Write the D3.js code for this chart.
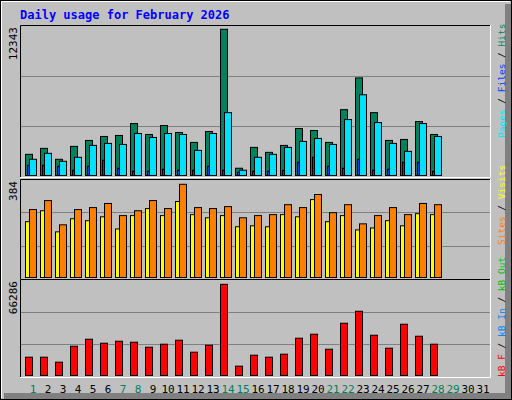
<!DOCTYPE html>
<html><head><meta charset="utf-8">
<script src="https://cdn.jsdelivr.net/npm/d3@7"></script>
<style>body{margin:0;background:#fff}</style>
</head><body>
<div id="chart"></div>
<script>
// daily values
const days = d3.range(1, 32);
const weekend = [1, 7, 8, 14, 15, 21, 22, 28, 29];
const hits = [1787,2290,1369,2458,2961,3296,3380,4385,3463,4217,3631,2793,3715,12343,614,2374,1955,2541,3966,3798,2793,5558,8239,5306,2961,3044,4552,3463];
const files = [1369,1871,1201,1536,2541,2709,2625,3547,3212,3547,3463,2123,3547,5306,447,1536,1787,2374,2877,3128,2625,4720,6815,4469,2709,2039,4385,3296];
const pages = [866,866,782,447,782,1285,614,363,363,531,447,447,782,447,279,363,363,447,1117,1536,782,614,1369,447,531,1117,1117,363];
const visits = [230,275,188,242,234,250,200,255,284,255,313,259,246,255,209,213,209,259,250,321,230,255,196,204,234,213,263,259];
const sites = [280,317,217,280,288,305,255,275,317,284,384,288,284,292,246,255,259,300,288,342,267,300,221,255,288,259,305,300];
const kbytes = [13305,13305,9676,21287,26367,23464,24916,24190,20562,22739,25641,16933,22013,66286,6773,14756,13305,15482,27093,29996,19110,37978,46687,29270,19836,37253,28544,22739];

const W = 512, H = 400;
const font = "'DejaVu Sans Mono', monospace";
const svg = d3.select("#chart").append("svg").attr("width", W).attr("height", H);

// background with bevel
svg.append("rect").attr("width", W).attr("height", H).attr("fill", "#c0c0c0");
svg.append("path").attr("d", `M1,${H-2}V1H${W-2}`).attr("stroke", "#fff").attr("stroke-width", 2).attr("fill", "none");
svg.append("path").attr("d", `M${W-4},4V${H-4}H4`).attr("stroke", "#808080").attr("stroke-width", 6).attr("fill", "none");
svg.append("rect").attr("x", 0.5).attr("y", 0.5).attr("width", W - 1).attr("height", H - 1).attr("fill", "none").attr("stroke", "#000");

svg.append("text").attr("x", 20).attr("y", 19).attr("fill", "#0000ff")
	.style("font", `bold 12px ${font}`).text("Daily usage for February 2026");

const x = d3.scaleLinear().domain([1, 31]).range([25, 475]); // left edge of day group

function panel(y0, y1, top, max, label){
	svg.append("path").attr("d", `M20.5,${y1}V${y0+0.5}H490.5`).attr("stroke", "#000").attr("fill", "none");
	svg.append("path").attr("d", `M490.5,${y0}V${y1+0.5}H20`).attr("stroke", "#fff").attr("fill", "none");
	const step = (y1 - y0) / 3;
	[1, 2].forEach(i => svg.append("line").attr("x1", 21).attr("x2", 490)
		.attr("y1", Math.round(y0 + step * i) + 0.5).attr("y2", Math.round(y0 + step * i) + 0.5)
		.attr("stroke", "#808080"));
	svg.append("text").attr("transform", `translate(17,${y0+2}) rotate(-90)`).attr("text-anchor", "end")
		.style("font", `11px ${font}`).text(label);
	return d3.scaleLinear().domain([0, max]).range([y1 - 1.5, top]);
}

function bars(data, y, dx, w, color){
	svg.append("g").selectAll("rect").data(data).join("rect")
		.attr("x", (d, i) => x(i + 1) + dx + 0.5)
		.attr("y", d => y(d))
		.attr("width", w)
		.attr("height", d => y(0) - y(d))
		.attr("fill", color).attr("stroke", "#000");
}

const yTop = panel(25, 177, 29.3, d3.max(hits), d3.max(hits));
bars(hits, yTop, 0, 7, "#00805c");
bars(files, yTop, 4, 7, "#00e0ff");
bars(pages, yTop, 2, 2, "#0040ff");

const yMid = panel(179, 279, 184.3, d3.max(sites), d3.max(sites));
bars(visits, yMid, 0, 4, "#ffff00");
bars(sites, yMid, 4, 7, "#ff8000");

const yBot = panel(279, 377, 284.3, d3.max(kbytes), d3.max(kbytes));
bars(kbytes, yBot, 0, 7, "#ff0000");

// day labels
svg.append("g").selectAll("text").data(days).join("text")
	.attr("x", d => x(d) + 8).attr("y", 393).attr("text-anchor", "middle")
	.attr("fill", d => weekend.includes(d) ? "#00805c" : "#000")
	.style("font", `11px ${font}`).text(d => d);

// right side legends, read bottom to top
function legend(yBottom, parts){
	const t = svg.append("text").attr("transform", `translate(505,${yBottom}) rotate(-90)`)
		.style("font", `9.5px ${font}`);
	parts.forEach(p => t.append("tspan").attr("fill", p[1]).text(p[0]));
}
legend(138, [["Pages", "#00e0ff"], [" / ", "#000"], ["Files", "#0040ff"], [" / ", "#000"], ["Hits", "#00805c"]]);
legend(245, [["Sites", "#ff8000"], [" / ", "#000"], ["Visits", "#ffff00"]]);
legend(377, [["kB F", "#ff0000"], [" / ", "#000"], ["kB In", "#0080ff"], [" / ", "#000"], ["kB Out", "#00c000"]]);
</script>
</body></html>
